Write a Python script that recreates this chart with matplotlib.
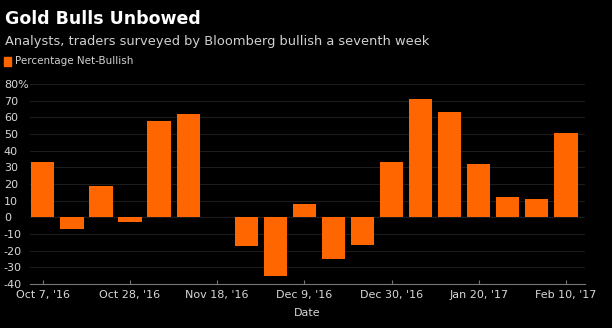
import matplotlib
matplotlib.use("Agg")
import matplotlib.pyplot as plt
import matplotlib.dates as mdates
import numpy as np
import pandas as pd

dates = pd.date_range("2016-10-07", "2017-02-10", freq="7D")
values = [33.4, -7.2, 18.8, -3.0, 58.0, 61.8, np.nan, -17.4, -35.4, 8.3,
          -25.2, -16.6, 33.4, 71.0, 63.0, 31.8, 12.0, 11.2, 50.4]
tick_dates = pd.date_range("2016-10-07", "2017-02-10", freq="21D")
tick_labels = ["Oct 7, '16", "Oct 28, '16", "Nov 18, '16", "Dec 9, '16",
               "Dec 30, '16", "Jan 20, '17", "Feb 10, '17"]
yticks = [-40, -30, -20, -10, 0, 10, 20, 30, 40, 50, 60, 70, 80]
ytick_labels = [str(v) for v in yticks[:-1]] + ["80%"]

W, H = 612, 328
fig = plt.figure(figsize=(W / 100, H / 100), dpi=100, facecolor="black")
left, right, top, bottom = 30, 585, 84, 284
ax = fig.add_axes([left / W, 1 - bottom / H, (right - left) / W, (bottom - top) / H])
ax.set_facecolor("black")

orange = "#ff6600"
ax.bar(mdates.date2num(dates), values, width=5.6, color=orange, zorder=3)

ax.set_ylim(-40, 80)
x0 = mdates.date2num(pd.Timestamp("2016-10-07"))
ax.set_xlim(x0 - 3.1, x0 + 126 + 4.6)
ax.set_yticks(yticks)
ax.set_yticklabels(ytick_labels)
ax.set_xticks(mdates.date2num(tick_dates))
ax.set_xticklabels(tick_labels)

for v in yticks:
    ax.axhline(v, color="#1c1c1c", lw=0.8, zorder=1)

for s in ["top", "right", "left"]:
    ax.spines[s].set_visible(False)
ax.spines["bottom"].set_color("#777777")
ax.spines["bottom"].set_linewidth(0.8)

ax.tick_params(axis="y", length=0, colors="#d8d8d8", labelsize=8, pad=3)
ax.tick_params(axis="x", length=3, direction="in", color="#777777",
               colors="#d8d8d8", labelsize=8, pad=4)
for lab in ax.get_yticklabels():
    lab.set_horizontalalignment("left")
    lab.set_x(-22 / (right - left))
ax.set_xlabel("Date", color="#d8d8d8", fontsize=8, labelpad=6)

fig.text(5 / W, 1 - 19 / H, "Gold Bulls Unbowed", color="white", fontsize=12.5,
         fontweight="bold", va="center", ha="left")
fig.text(5 / W, 1 - 41 / H, "Analysts, traders surveyed by Bloomberg bullish a seventh week",
         color="#d0d0d0", fontsize=9.4, va="center", ha="left")
fig.patches.append(plt.Rectangle((4 / W, 1 - 66 / H), 7 / W, 9 / H,
                                 transform=fig.transFigure, color=orange, figure=fig))
fig.text(15 / W, 1 - 61.5 / H, "Percentage Net-Bullish", color="#d0d0d0",
         fontsize=7.5, va="center", ha="left")

fig.savefig("out.png", dpi=100, facecolor="black")
